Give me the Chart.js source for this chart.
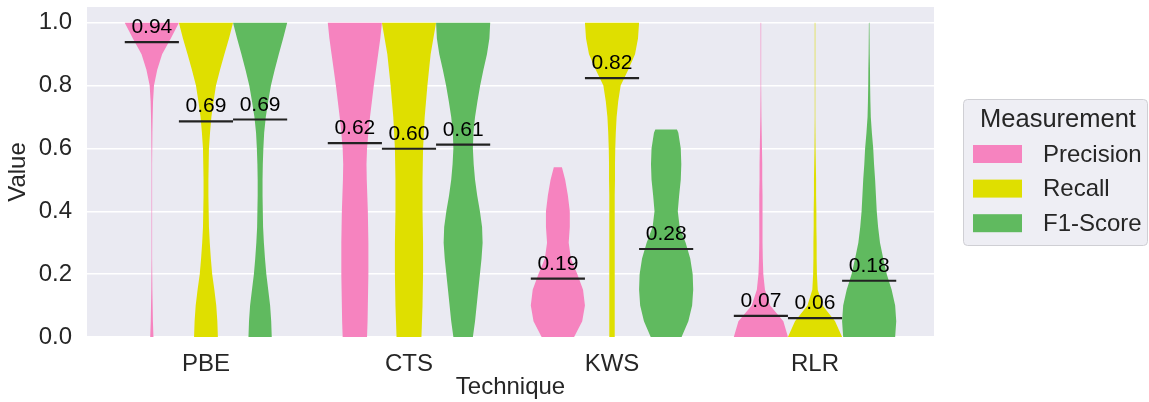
<!DOCTYPE html>
<html>
<head>
<meta charset="utf-8">
<script src="https://cdn.jsdelivr.net/npm/chart.js@4"></script>
<style>
  body { margin: 0; background: #fff; }
  #wrap { width: 1149px; height: 402px; position: relative; }
</style>
</head>
<body>
<div id="wrap"><canvas id="myChart"></canvas></div>
<script>
// categories and series
var techniques = ['PBE', 'CTS', 'KWS', 'RLR'];
var measures = ['Precision', 'Recall', 'F1-Score'];
var colors = ['#F683BF', '#DFDF00', '#60BA5F'];
var yTicks = [0, 0.2, 0.4, 0.6, 0.8, 1.0];

// medians per technique (PBE, CTS, KWS, RLR)
var precisionMedian = [0.938, 0.617, 0.186, 0.067];
var recallMedian = [0.686, 0.599, 0.824, 0.060];
var f1Median = [0.692, 0.612, 0.280, 0.179];

// largest observed value of each violin
var precisionMax = [1, 1, 0.54, 1];
var recallMax = [1, 1, 1, 1];
var f1Max = [1, 1, 0.66, 1];

// violin half-widths (relative) at levels 0, 0.05, ... 1.0
var levels = [0, 0.05, 0.1, 0.15, 0.2, 0.25, 0.3, 0.35, 0.4, 0.45, 0.5, 0.55, 0.6, 0.65, 0.7, 0.75, 0.8, 0.85, 0.9, 0.95, 1.0];
var precisionWidth = [
    [0.06, 0.04, 0.03, 0.02, 0.015, 0.01, 0.01, 0.01, 0.01, 0.01, 0.01, 0.01, 0.015, 0.02, 0.03, 0.045, 0.08, 0.2, 0.38, 0.7, 1.0],
    [0.45, 0.47, 0.48, 0.49, 0.5, 0.5, 0.5, 0.49, 0.48, 0.46, 0.44, 0.43, 0.45, 0.5, 0.56, 0.63, 0.7, 0.78, 0.86, 0.94, 1.0],
    [0.6, 0.9, 1.0, 0.93, 0.72, 0.48, 0.4, 0.44, 0.44, 0.37, 0.27, 0.15],
    [1.0, 0.83, 0.34, 0.15, 0.09, 0.07, 0.06, 0.06, 0.06, 0.06, 0.05, 0.05, 0.04, 0.03, 0.02, 0.015, 0.01, 0.01, 0.01, 0.01, 0.01]
];
var recallWidth = [
    [0.44, 0.42, 0.38, 0.31, 0.23, 0.18, 0.14, 0.11, 0.1, 0.09, 0.09, 0.1, 0.11, 0.15, 0.2, 0.28, 0.37, 0.52, 0.68, 0.85, 1.0],
    [0.46, 0.48, 0.5, 0.51, 0.52, 0.52, 0.52, 0.51, 0.5, 0.5, 0.5, 0.51, 0.52, 0.55, 0.58, 0.63, 0.68, 0.74, 0.8, 0.9, 1.0],
    [0.1, 0.1, 0.1, 0.1, 0.1, 0.1, 0.1, 0.1, 0.1, 0.1, 0.11, 0.11, 0.12, 0.14, 0.17, 0.23, 0.32, 0.6, 0.85, 0.96, 1.0],
    [1.0, 0.74, 0.28, 0.1, 0.07, 0.06, 0.06, 0.05, 0.05, 0.04, 0.04, 0.03, 0.02, 0.015, 0.01, 0.01, 0.01, 0.01, 0.01, 0.01, 0.01]
];
var f1Width = [
    [0.43, 0.41, 0.37, 0.3, 0.23, 0.18, 0.14, 0.11, 0.1, 0.09, 0.09, 0.1, 0.12, 0.15, 0.21, 0.3, 0.4, 0.54, 0.69, 0.85, 1.0],
    [0.36, 0.44, 0.5, 0.56, 0.62, 0.68, 0.72, 0.7, 0.62, 0.52, 0.44, 0.39, 0.36, 0.38, 0.44, 0.53, 0.63, 0.75, 0.88, 0.97, 1.0],
    [0.57, 0.82, 0.96, 1.0, 0.98, 0.89, 0.72, 0.5, 0.43, 0.48, 0.54, 0.56, 0.54, 0.45, 0.4],
    [0.96, 1.0, 0.96, 0.83, 0.65, 0.52, 0.4, 0.33, 0.28, 0.25, 0.22, 0.18, 0.15, 0.1, 0.06, 0.045, 0.035, 0.03, 0.02, 0.015, 0.01]
];

var medians = [precisionMedian, recallMedian, f1Median];
var maxes = [precisionMax, recallMax, f1Max];
var widths = [precisionWidth, recallWidth, f1Width];

var violinWidth = 0.8 / 3;
var font = "'Liberation Sans', Arial, sans-serif";

function violinPoints(center, w, top) {
    var right = [], left = [];
    for (var i = 0; i < w.length; i++) {
        var y = Math.min(levels[i], top);
        var dx = w[i] * violinWidth / 2;
        right.push({x: center + dx, y: y});
        left.unshift({x: center - dx, y: y});
        if (levels[i] >= top) break;
    }
    return right.concat(left);
}

var datasets = [];
var labelsToDraw = [];
for (var s = 0; s < measures.length; s++) {
    for (var c = 0; c < techniques.length; c++) {
        var center = c + (s - 1) * violinWidth;
        datasets.push({
            label: measures[s],
            violin: true,
            data: violinPoints(center, widths[s][c], maxes[s][c]),
            showLine: false,
            backgroundColor: colors[s],
            pointRadius: 0
        });
        datasets.push({
            label: 'median',
            data: [{x: center - violinWidth / 2, y: medians[s][c]}, {x: center + violinWidth / 2, y: medians[s][c]}],
            showLine: true,
            fill: false,
            borderColor: '#222222',
            borderWidth: 2.2,
            pointRadius: 0
        });
        labelsToDraw.push({x: center, y: medians[s][c], text: medians[s][c].toFixed(2)});
    }
}

var decorations = {
    id: 'decorations',
    beforeDraw: function(chart) {
        var a = chart.chartArea, ctx = chart.ctx;
        ctx.save();
        ctx.fillStyle = '#EAEAF2';
        ctx.fillRect(a.left, a.top, a.right - a.left, a.bottom - a.top);
        ctx.restore();
    },
    beforeDatasetsDraw: function(chart) {
        // violin bodies: polygons through the points placed by the scales
        var ctx = chart.ctx;
        ctx.save();
        chart.data.datasets.forEach(function(ds, i) {
            if (!ds.violin) return;
            var pts = chart.getDatasetMeta(i).data;
            ctx.beginPath();
            pts.forEach(function(p, k) {
                if (k === 0) ctx.moveTo(p.x, p.y); else ctx.lineTo(p.x, p.y);
            });
            ctx.closePath();
            ctx.fillStyle = ds.backgroundColor;
            ctx.fill();
        });
        ctx.restore();
    },
    afterDatasetsDraw: function(chart) {
        var ctx = chart.ctx, xs = chart.scales.x, ys = chart.scales.y;
        ctx.save();
        ctx.fillStyle = '#000';
        ctx.font = '21px ' + font;
        ctx.textAlign = 'center';
        ctx.textBaseline = 'alphabetic';
        labelsToDraw.forEach(function(l) {
            ctx.fillText(l.text, xs.getPixelForValue(l.x), ys.getPixelForValue(l.y) - 9);
        });
        ctx.restore();
    },
    afterDraw: function(chart) {
        var ctx = chart.ctx;
        var bx = 963.5, by = 99.5, bw = 184, bh = 146;
        ctx.save();
        ctx.beginPath();
        ctx.roundRect(bx, by, bw, bh, 4);
        ctx.fillStyle = '#EEEEF4';
        ctx.fill();
        ctx.strokeStyle = '#CFCFD4';
        ctx.lineWidth = 1;
        ctx.stroke();
        ctx.fillStyle = '#262626';
        ctx.font = '25.5px ' + font;
        ctx.textAlign = 'center';
        ctx.textBaseline = 'middle';
        ctx.fillText('Measurement', 1058, 120);
        ctx.font = '24px ' + font;
        ctx.textAlign = 'left';
        for (var i = 0; i < measures.length; i++) {
            var ty = 145 + i * 34.6;
            ctx.fillStyle = colors[i];
            ctx.fillRect(973, ty, 49, 18);
            ctx.fillStyle = '#262626';
            ctx.fillText(measures[i], 1043, ty + 10);
        }
        ctx.restore();
    }
};

var ctx = document.getElementById('myChart').getContext('2d');
var myChart = new Chart(ctx, {
    type: 'scatter',
    data: { datasets: datasets },
    options: {
        responsive: true,
        maintainAspectRatio: false,
        animation: false,
        layout: { padding: { top: 7, right: 215, left: 0, bottom: 0 } },
        plugins: {
            legend: { display: false },
            tooltip: { enabled: false }
        },
        scales: {
            x: {
                type: 'linear',
                min: -0.586,
                max: 3.586,
                afterBuildTicks: function(scale) {
                    scale.ticks = techniques.map(function(t, i) { return {value: i}; });
                },
                afterFit: function(scale) {
                    scale.height = 65;
                    scale.paddingLeft = 0;
                    scale.paddingRight = 0;
                },
                ticks: {
                    padding: 5,
                    color: '#262626',
                    font: { family: font, size: 24 },
                    callback: function(v) { return techniques[v]; }
                },
                grid: { display: false },
                border: { display: false },
                title: {
                    display: true,
                    text: 'Technique',
                    color: '#262626',
                    font: { family: font, size: 24 },
                    padding: { top: 0, bottom: 0 }
                }
            },
            y: {
                min: 0,
                max: 1.05,
                afterBuildTicks: function(scale) {
                    scale.ticks = yTicks.map(function(v) { return {value: v}; });
                },
                afterFit: function(scale) {
                    scale.width = 87;
                    scale.paddingTop = 0;
                    scale.paddingBottom = 0;
                },
                ticks: {
                    padding: 15,
                    color: '#262626',
                    font: { family: font, size: 24 },
                    callback: function(v) { return v.toFixed(1); }
                },
                grid: { color: '#FFFFFF', lineWidth: 1.5, drawTicks: false },
                border: { display: false },
                title: {
                    display: true,
                    text: 'Value',
                    color: '#262626',
                    font: { family: font, size: 24 },
                    padding: { top: 4, bottom: 0 }
                }
            }
        }
    },
    plugins: [decorations]
});
</script>
</body>
</html>
